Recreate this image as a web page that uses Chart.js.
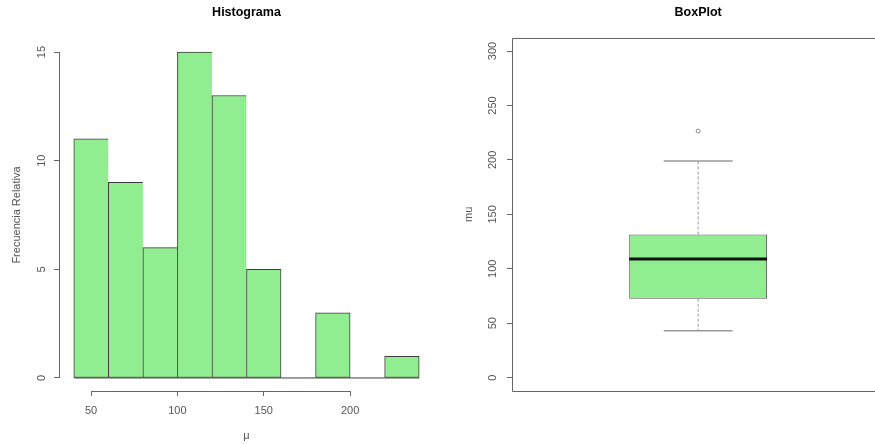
<!DOCTYPE html>
<html>
<head>
<meta charset="utf-8">
<script src="https://cdn.jsdelivr.net/npm/chart.js@4.4.1/dist/chart.umd.min.js"></script>
<style>
  html, body { margin: 0; padding: 0; background: #fff; overflow: hidden; }
  body { width: 875px; height: 444px; position: relative; }
  .panel { position: absolute; top: 0; height: 444px; }
  #hist-wrap { left: 0; width: 440px; }
  #box-wrap { left: 440px; width: 450px; }
</style>
</head>
<body>
<div id="hist-wrap" class="panel"><canvas id="histChart" width="440" height="444"></canvas></div>
<div id="box-wrap" class="panel"><canvas id="boxChart" width="450" height="444"></canvas></div>
<script>
// histogram data
const binEdges = [40, 60, 80, 100, 120, 140, 160, 180, 200, 220, 240];
const binCounts = [11, 9, 6, 15, 13, 5, 0, 3, 0, 1];
const histXTicks = [50, 100, 150, 200];
const histYTicks = [0, 5, 10, 15];

// boxplot data
const boxLabels = ['mu'];
const boxQuartiles = [72.5, 131.5];
const boxMedian = 109;
const boxWhiskers = [43, 199];
const boxOutliers = [226.5];
const boxYTicks = [0, 50, 100, 150, 200, 250, 300];

const AXIS_GRAY = '#666';
const TEXT_GRAY = '#555';
const GREEN = '#90ee90';

// R style box geometry (x units of the box axis)
const BOX_POS = 1;
const BOX_X_MIN = 0.46;
const BOX_X_MAX = 1.54;
const BOX_WIDTH = 0.4;
const STAPLE_WIDTH = 0.2;

Chart.defaults.font.family = '"Liberation Sans", Arial, sans-serif';
Chart.defaults.font.size = 11;
Chart.defaults.color = TEXT_GRAY;

// axis lines the R way: only between first and last tick, or a full frame
const axisLines = {
    id: 'axisLines',
    afterDraw(chart, args, opts) {
        const { ctx, chartArea } = chart;
        ctx.save();
        ctx.strokeStyle = AXIS_GRAY;
        ctx.lineWidth = 1;
        ctx.beginPath();
        if (opts.frame) {
            ctx.rect(Math.round(chartArea.left) + 0.5, Math.round(chartArea.top) + 0.5,
                Math.round(chartArea.width), Math.round(chartArea.height));
        } else {
            const sx = chart.scales.x;
            const sy = chart.scales.y;
            const yb = Math.round(chartArea.bottom) + 0.5;
            ctx.moveTo(sx.getPixelForValue(opts.xTicks[0]), yb);
            ctx.lineTo(sx.getPixelForValue(opts.xTicks[opts.xTicks.length - 1]), yb);
            const xl = Math.round(chartArea.left) - 0.5;
            ctx.moveTo(xl, sy.getPixelForValue(opts.yTicks[0]));
            ctx.lineTo(xl, sy.getPixelForValue(opts.yTicks[opts.yTicks.length - 1]));
        }
        ctx.stroke();
        ctx.restore();
    }
};

const tickGrid = len => ({
    drawOnChartArea: false,
    drawTicks: true,
    tickLength: len,
    color: AXIS_GRAY,
    offset: false
});

// --- Histogram ---
new Chart(document.getElementById('histChart'), {
    type: 'bar',
    data: {
        datasets: [
            {
                data: binCounts.map((c, i) => ({ x: (binEdges[i] + binEdges[i + 1]) / 2, y: c })),
                backgroundColor: GREEN,
                borderColor: '#3c3c3c',
                borderWidth: ctx => {
                    const i = ctx.dataIndex;
                    const last = i === binCounts.length - 1 || binCounts[i + 1] === 0;
                    return { top: 1, bottom: 1, left: 1, right: last ? 1 : 0 };
                },
                borderSkipped: false,
                categoryPercentage: 1,
                barPercentage: 1
            },
            {
                type: 'line',
                data: [
                    { x: binEdges[0], y: 0 },
                    { x: binEdges[binEdges.length - 1], y: 0 }
                ],
                borderColor: '#3c3c3c',
                borderWidth: 1,
                pointRadius: 0
            }
        ]
    },
    options: {
        responsive: false,
        animation: false,
        layout: { padding: { right: 7 } },
        plugins: {
            legend: { display: false },
            tooltip: { enabled: false },
            title: {
                display: true,
                text: 'Histograma',
                fullSize: false,
                color: '#000',
                font: { size: 12.5, weight: 'bold' },
                padding: { top: 5.5, bottom: 18.5 }
            },
            axisLines: { xTicks: histXTicks, yTicks: histYTicks }
        },
        scales: {
            x: {
                type: 'linear',
                min: 32,
                max: 248,
                offset: false,
                afterBuildTicks: s => { s.ticks = histXTicks.map(v => ({ value: v })); },
                afterFit: s => { s.height = 53; },
                grid: tickGrid(5),
                border: { display: false },
                ticks: { padding: 8, autoSkip: false, maxRotation: 0 },
                title: { display: true, text: 'μ', padding: { top: 0, bottom: 1 } }
            },
            y: {
                type: 'linear',
                min: -0.6,
                max: 15.6,
                afterBuildTicks: s => { s.ticks = histYTicks.map(v => ({ value: v })); },
                afterFit: s => { s.width = 60; },
                grid: tickGrid(6),
                border: { display: false },
                ticks: { minRotation: 90, maxRotation: 90, crossAlign: 'center', padding: 6, autoSkip: false },
                title: { display: true, text: 'Frecuencia Relativa', padding: { top: 10, bottom: 0 } }
            }
        }
    },
    plugins: [axisLines]
});

// --- BoxPlot ---
const half = BOX_WIDTH / 2;
const staple = STAPLE_WIDTH / 2;
const whiskerStyle = {
    type: 'line',
    xAxisID: 'x',
    borderColor: '#999',
    borderWidth: 1,
    pointRadius: 0
};

new Chart(document.getElementById('boxChart'), {
    type: 'bar',
    data: {
        labels: boxLabels,
        datasets: [
            {
                type: 'line',
                order: 0,
                xAxisID: 'x',
                data: [
                    { x: BOX_POS - half, y: boxMedian },
                    { x: BOX_POS + half, y: boxMedian }
                ],
                borderColor: '#111',
                borderWidth: 3,
                pointRadius: 0
            },
            {
                type: 'bar',
                order: 5,
                xAxisID: 'xBox',
                grouped: false,
                data: [boxQuartiles],
                backgroundColor: GREEN,
                borderColor: '#555',
                borderWidth: 1,
                borderSkipped: false,
                categoryPercentage: 1,
                barPercentage: BOX_WIDTH / (BOX_X_MAX - BOX_X_MIN)
            },
            {
                ...whiskerStyle,
                order: 3,
                borderDash: [3, 2],
                data: [{ x: BOX_POS, y: boxQuartiles[1] }, { x: BOX_POS, y: boxWhiskers[1] }]
            },
            {
                ...whiskerStyle,
                order: 3,
                borderDash: [3, 2],
                data: [{ x: BOX_POS, y: boxQuartiles[0] }, { x: BOX_POS, y: boxWhiskers[0] }]
            },
            {
                ...whiskerStyle,
                order: 2,
                borderWidth: 1.5,
                data: [{ x: BOX_POS - staple, y: boxWhiskers[1] }, { x: BOX_POS + staple, y: boxWhiskers[1] }]
            },
            {
                ...whiskerStyle,
                order: 2,
                borderWidth: 1.5,
                data: [{ x: BOX_POS - staple, y: boxWhiskers[0] }, { x: BOX_POS + staple, y: boxWhiskers[0] }]
            },
            {
                type: 'line',
                order: 1,
                xAxisID: 'x',
                showLine: false,
                data: boxOutliers.map(v => ({ x: BOX_POS, y: v })),
                pointRadius: 2,
                pointBorderWidth: 1,
                pointBorderColor: '#888',
                pointBackgroundColor: 'rgba(0,0,0,0)'
            }
        ]
    },
    options: {
        responsive: false,
        animation: false,
        layout: { padding: { right: 5.7, bottom: 53.3 } },
        plugins: {
            legend: { display: false },
            tooltip: { enabled: false },
            title: {
                display: true,
                text: 'BoxPlot',
                fullSize: false,
                color: '#000',
                font: { size: 12.5, weight: 'bold' },
                padding: { top: 5.5, bottom: 17.5 }
            },
            axisLines: { frame: true }
        },
        scales: {
            x: { type: 'linear', display: false, min: BOX_X_MIN, max: BOX_X_MAX, offset: false },
            xBox: { type: 'category', display: false, offset: true },
            y: {
                type: 'linear',
                min: -12,
                max: 312,
                afterBuildTicks: s => { s.ticks = boxYTicks.map(v => ({ value: v })); },
                afterFit: s => { s.width = 72; },
                grid: tickGrid(5),
                border: { display: false },
                ticks: { minRotation: 90, maxRotation: 90, crossAlign: 'center', padding: 4.5, autoSkip: false },
                title: { display: true, text: 'mu', padding: { top: 22, bottom: 0 } }
            }
        }
    },
    plugins: [axisLines]
});
</script>
</body>
</html>
